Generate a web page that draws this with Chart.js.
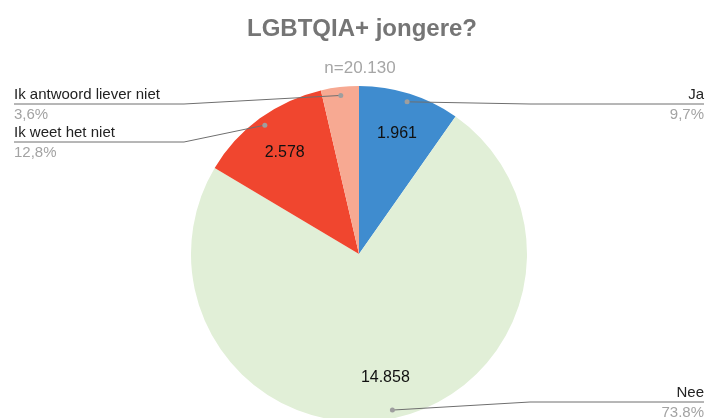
<!DOCTYPE html>
<html>
<head>
<meta charset="utf-8">
<script src="https://cdn.jsdelivr.net/npm/chart.js@4"></script>
<style>
  html, body { margin: 0; padding: 0; background: #fff; overflow: hidden; }
  #wrap { width: 708px; height: 430px; }
</style>
</head>
<body>
<div id="wrap"><canvas id="pieChart" width="708" height="430"></canvas></div>
<script>
// chart data
const title = 'LGBTQIA+ jongere?';
const subtitle = 'n=20.130';
const categories = ['Ja', 'Nee', 'Ik weet het niet', 'Ik antwoord liever niet'];
const values = [1961, 14858, 2578, 733];
const pctLabels = ['9,7%', '73.8%', '12,8%', '3,6%'];
const colors = ['#3f8ccf', '#e1efd7', '#f0462f', '#f7a992'];

const total = values.reduce((a, b) => a + b, 0);

function fmtThousands(n) {
    return String(n).replace(/\B(?=(\d{3})+(?!\d))/g, '.');
}

const FONT = '"Liberation Sans", Arial, sans-serif';

// draws title, value labels and leader lines
const sliceLabels = {
    id: 'sliceLabels',
    afterDraw(chart, args, opts) {
        const ctx = chart.ctx;
        ctx.save();

        ctx.textAlign = 'center';
        ctx.textBaseline = 'alphabetic';
        ctx.fillStyle = '#757575';
        ctx.font = 'bold 24px ' + FONT;
        ctx.fillText(title, 362, 36);
        ctx.fillStyle = '#a6a6a6';
        ctx.font = '17px ' + FONT;
        ctx.fillText(subtitle, 360, 73);

        const meta = chart.getDatasetMeta(0);
        meta.data.forEach((arc, i) => {
            const p = arc.getProps(['x', 'y', 'startAngle', 'endAngle', 'outerRadius'], true);
            const mid = (p.startAngle + p.endAngle) / 2;
            const r = p.outerRadius;

            // value inside slice
            if (values[i] / total >= 0.05) {
                ctx.fillStyle = '#111';
                ctx.font = '16px ' + FONT;
                ctx.textAlign = 'center';
                ctx.textBaseline = 'middle';
                ctx.fillText(fmtThousands(values[i]),
                    p.x + Math.cos(mid) * r * 0.75,
                    p.y + Math.sin(mid) * r * 0.75);
            }

            // leader line
            const dotX = p.x + Math.cos(mid) * r * 0.95;
            const dotY = p.y + Math.sin(mid) * r * 0.95;
            const right = Math.cos(mid) >= 0;
            const ly = opts.lineY[i];
            const elbowX = right ? opts.rightElbow : opts.leftElbow;
            const endX = right ? opts.rightEdge : opts.leftEdge;

            ctx.strokeStyle = '#6f6f6f';
            ctx.lineWidth = 1;
            ctx.beginPath();
            ctx.moveTo(dotX, dotY);
            ctx.lineTo(elbowX, ly);
            ctx.lineTo(endX, ly);
            ctx.stroke();

            ctx.fillStyle = '#9e9e9e';
            ctx.beginPath();
            ctx.arc(dotX, dotY, 2.5, 0, Math.PI * 2);
            ctx.fill();

            ctx.textAlign = right ? 'right' : 'left';
            ctx.textBaseline = 'alphabetic';
            ctx.fillStyle = '#222';
            ctx.font = '15px ' + FONT;
            ctx.fillText(categories[i], endX, ly - 5);
            ctx.fillStyle = '#a3a3a3';
            ctx.fillText(pctLabels[i], endX, ly + 15);
        });

        ctx.restore();
    }
};

new Chart(document.getElementById('pieChart').getContext('2d'), {
    type: 'pie',
    data: {
        labels: categories,
        datasets: [{
            data: values,
            backgroundColor: colors,
            borderWidth: 0,
            hoverOffset: 0
        }]
    },
    options: {
        responsive: false,
        animation: false,
        layout: { padding: { top: 86, bottom: 8, left: 10, right: 0 } },
        plugins: {
            legend: { display: false },
            tooltip: { enabled: false },
            sliceLabels: {
                lineY: [104, 402, 142, 104],
                leftElbow: 184,
                rightElbow: 530,
                leftEdge: 14,
                rightEdge: 704
            }
        }
    },
    plugins: [sliceLabels]
});
</script>
</body>
</html>
